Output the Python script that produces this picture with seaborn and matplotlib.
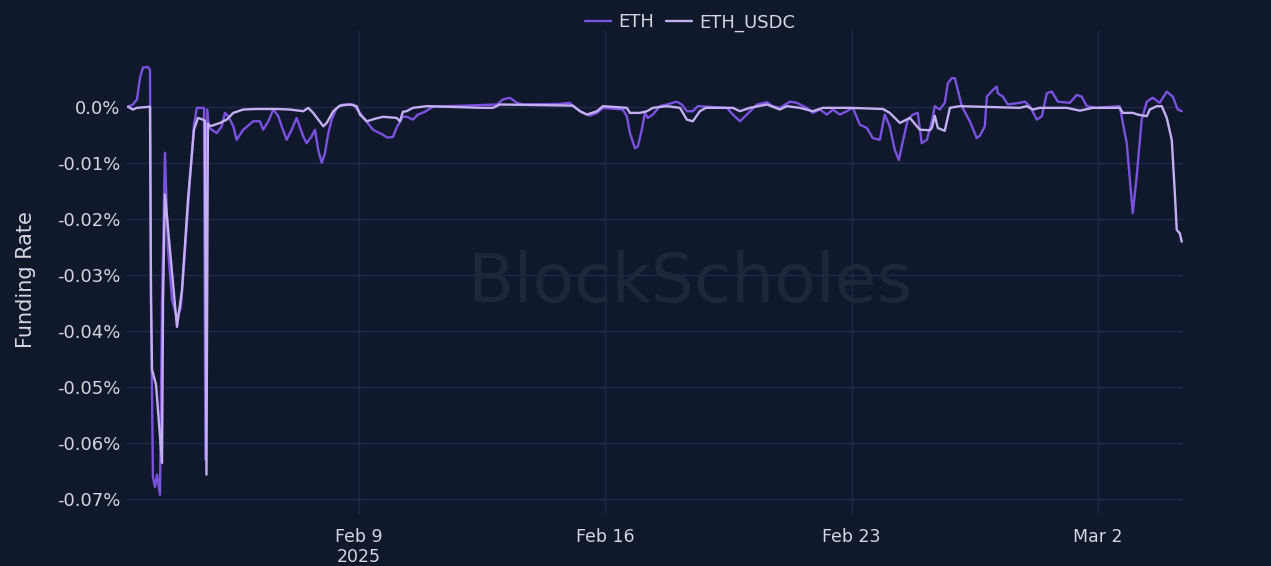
import numpy as np
import pandas as pd
import matplotlib
matplotlib.use("Agg")
import matplotlib.pyplot as plt
import seaborn as sns

START = pd.Timestamp("2025-02-02 00:00")

# ETH perp funding rate (%), hours since START
eth_hours = [10.5, 13.9, 16.6, 18.7, 20.7, 24.1, 25.5, 26.2, 27.5, 28.9, 30.3, 32.3, 33.7,
             35.7, 37.8, 40.5, 43.9, 46.6, 49.4, 52.8, 55.5, 57.5, 62.3, 63.3, 64.4, 65.7,
             67.6, 71.0, 74.4, 76.6, 78.9, 82.3, 84.6, 89.1, 95.9, 100.5, 102.7, 106.2,
             109.6, 113.0, 115.3, 118.7, 122.1, 125.5, 130.0, 132.3, 135.7, 138.0, 140.2,
             142.6, 144.8, 147.1, 149.4, 152.8, 157.3, 164.1, 168.7, 173.4, 177.5, 184.4,
             187.1, 191.2, 193.9, 198.0, 200.7, 204.8, 208.2, 213.0, 218.5, 262.1, 266.2,
             270.9, 275.7, 279.8, 305.0, 311.9, 313.9, 320.7, 325.5, 330.3, 334.4, 348.0,
             350.7, 352.8, 356.2, 358.2, 360.9, 363.0, 365.0, 368.4, 373.2, 378.0, 384.8,
             388.2, 391.6, 395.7, 399.1, 418.9, 423.0, 427.8, 432.5, 439.4, 446.2, 450.3,
             455.0, 461.9, 466.6, 473.4, 477.5, 482.3, 487.1, 491.2, 495.9, 500.7, 504.8,
             509.6, 514.4, 518.4, 523.2, 526.6, 530.0, 533.4, 536.2, 538.9, 542.3, 545.7,
             549.1, 551.8, 555.3, 558.7, 560.7, 564.1, 567.5, 569.6, 572.3, 574.4, 576.4,
             579.1, 584.6, 589.3, 591.4, 594.8, 596.2, 600.3, 603.0, 603.7, 607.1, 610.5,
             618.7, 622.1, 625.5, 630.3, 633.7, 637.1, 640.5, 644.6, 652.8, 657.5, 660.9,
             664.3, 671.2, 686.8, 691.6, 695.7, 698.4, 701.8, 705.3, 709.3, 714.1, 718.9,
             723.0, 726.4, 729.1]
eth_rate = [0.0, 0.0004, 0.0013, 0.0052, 0.0070, 0.0071, 0.0066, -0.0345, -0.0661, -0.0679,
            -0.0657, -0.0693, -0.0345, -0.0082, -0.0255, -0.0345, -0.0377, -0.0359, -0.0255,
            -0.0130, -0.0032, -0.0002, -0.0002, -0.0630, -0.0005, -0.0038, -0.0041, -0.0047,
            -0.0035, -0.0011, -0.0017, -0.0035, -0.0059, -0.0041, -0.0026, -0.0026, -0.0041,
            -0.0026, -0.0005, -0.0017, -0.0035, -0.0059, -0.0041, -0.0020, -0.0053, -0.0065,
            -0.0053, -0.0041, -0.0077, -0.0100, -0.0083, -0.0047, -0.0023, -0.0002, 0.0004,
            0.0004, -0.0011, -0.0027, -0.0041, -0.0050, -0.0055, -0.0054, -0.0036, -0.0018,
            -0.0018, -0.0023, -0.0014, -0.0009, 0.0, 0.0004, 0.0013, 0.0016, 0.0007, 0.0004,
            0.0005, 0.0007, 0.0001, -0.0011, -0.0016, -0.0011, -0.0002, -0.0005, -0.0017,
            -0.0047, -0.0074, -0.0071, -0.0041, -0.0011, -0.0020, -0.0014, 0.0001, 0.0004,
            0.0009, 0.0004, -0.0008, -0.0008, 0.0001, -0.0002, -0.0014, -0.0026, -0.0014,
            0.0004, 0.0008, 0.0001, -0.0002, 0.0009, 0.0007, -0.0002, -0.0011, -0.0005,
            -0.0014, -0.0005, -0.0014, -0.0008, -0.0002, -0.0032, -0.0038, -0.0056, -0.0059,
            -0.0014, -0.0035, -0.0077, -0.0095, -0.0062, -0.0023, -0.0014, -0.0011, -0.0065,
            -0.0059, -0.0026, 0.0001, -0.0005, 0.0007, 0.0042, 0.0051, 0.0051, 0.0030, 0.0001,
            -0.0026, -0.0056, -0.0052, -0.0035, 0.0018, 0.0030, 0.0036, 0.0024, 0.0018,
            0.0004, 0.0007, 0.0009, 0.0001, -0.0023, -0.0017, 0.0024, 0.0027, 0.0009, 0.0007,
            0.0021, 0.0018, 0.0001, -0.0002, 0.0001, -0.0065, -0.0190, -0.0124, -0.0023,
            0.0009, 0.0016, 0.0007, 0.0027, 0.0018, -0.0005, -0.0008]

# ETH_USDC perp funding rate (%)
usdc_hours = [10.5, 13.9, 16.6, 25.5, 26.2, 26.9, 29.6, 33.7, 34.4, 35.7, 39.1, 43.9, 47.3,
              51.4, 55.5, 58.2, 61.6, 62.9, 64.0, 65.0, 66.4, 73.2, 77.8, 82.3, 89.1, 98.2,
              111.9, 120.9, 130.0, 133.4, 136.8, 143.7, 146.0, 150.5, 155.0, 161.9, 166.4,
              168.7, 173.3, 179.6, 184.4, 193.7, 195.9, 198.0, 200.5, 204.8, 214.4, 252.5,
              259.4, 264.1, 313.9, 318.7, 323.5, 330.3, 334.4, 350.7, 352.8, 359.6, 364.4,
              368.4, 378.0, 386.9, 391.6, 395.7, 400.5, 404.6, 423.0, 427.8, 434.6, 446.2,
              455.0, 459.8, 468.7, 477.5, 484.4, 502.7, 525.3, 530.0, 536.9, 543.7, 550.5,
              557.3, 558.7, 560.7, 562.8, 567.5, 571.0, 577.8, 618.7, 623.4, 627.5, 632.3,
              650.7, 659.6, 668.4, 686.8, 688.9, 695.7, 699.1, 705.3, 707.3, 712.1, 715.5,
              718.9, 722.3, 724.4, 725.7, 727.8, 729.1]
usdc_rate = [0.0, -0.0005, -0.0002, 0.0, -0.0345, -0.0470, -0.0496, -0.0636, -0.0345, -0.0157,
             -0.0255, -0.0393, -0.0327, -0.0166, -0.0041, -0.0020, -0.0023, -0.0025, -0.0657,
             -0.0030, -0.0035, -0.0029, -0.0023, -0.0011, -0.0005, -0.0004, -0.0004, -0.0005,
             -0.0008, -0.0002, -0.0011, -0.0035, -0.0029, -0.0008, 0.0002, 0.0004, 0.0001,
             -0.0014, -0.0026, -0.0021, -0.0018, -0.0020, -0.0026, -0.0009, -0.0008, -0.0002,
             0.0001, -0.0002, -0.0002, 0.0004, 0.0002, -0.0008, -0.0014, -0.0008, 0.0001,
             -0.0002, -0.0011, -0.0011, -0.0008, -0.0002, 0.0001, -0.0002, -0.0023, -0.0026,
             -0.0008, -0.0002, -0.0002, -0.0008, -0.0002, 0.0004, -0.0005, 0.0001, -0.0002,
             -0.0008, -0.0002, -0.0002, -0.0004, -0.0011, -0.0029, -0.0020, -0.0041, -0.0042,
             -0.0038, -0.0016, -0.0038, -0.0043, -0.0002, 0.0001, -0.0002, 0.0001, -0.0005,
             -0.0002, -0.0002, -0.0007, -0.0002, -0.0002, -0.0011, -0.0011, -0.0014, -0.0017,
             -0.0005, 0.0001, 0.0001, -0.0020, -0.0059, -0.0154, -0.0220, -0.0226, -0.0241]

y_ticks = [0.0, -0.01, -0.02, -0.03, -0.04, -0.05, -0.06, -0.07]
y_labels = ["0.0%", "-0.01%", "-0.02%", "-0.03%", "-0.04%", "-0.05%", "-0.06%", "-0.07%"]
x_ticks = ["2025-02-09", "2025-02-16", "2025-02-23", "2025-03-02"]
x_labels = ["Feb 9\n2025", "Feb 16", "Feb 23", "Mar 2"]

BG = "#10182c"
GRID = "#1f2946"
TEXT = "#d4d7e2"
palette = {"ETH": "#7b52e0", "ETH_USDC": "#c4b0f0"}

df = pd.concat([
    pd.DataFrame({"time": START + pd.to_timedelta(eth_hours, unit="h"),
                  "rate": eth_rate, "series": "ETH"}),
    pd.DataFrame({"time": START + pd.to_timedelta(usdc_hours, unit="h"),
                  "rate": usdc_rate, "series": "ETH_USDC"}),
], ignore_index=True)

sns.set_theme(style="dark", rc={
    "axes.facecolor": BG, "figure.facecolor": BG,
    "axes.edgecolor": BG, "grid.color": GRID,
    "axes.grid": True, "grid.linewidth": 1.0,
})
plt.rcParams["font.family"] = ["DejaVu Sans"]

fig = plt.figure(figsize=(12.71, 5.66), dpi=100)
ax = fig.add_axes([0.0999, 0.0901, 0.8309, 0.8569])

# faint watermark behind the lines
fig.text(0.543, 0.50, "BlockScholes", color="#1e2639", fontsize=49,
         ha="center", va="center", zorder=0)

sns.lineplot(data=df, x="time", y="rate", hue="series", palette=palette,
             linewidth=1.7, ax=ax, legend=False, estimator=None, sort=False)

ax.set_xlim(START + pd.Timedelta(hours=9.8), START + pd.Timedelta(hours=730))
ax.set_ylim(-0.0729, 0.0137)
ax.set_yticks(y_ticks)
ax.set_yticklabels(y_labels)
ax.set_xticks(pd.to_datetime(x_ticks))
ax.set_xticklabels(x_labels)
ax.tick_params(axis="both", colors=TEXT, labelsize=13, length=0)
ax.tick_params(axis="x", pad=9, labelsize=12.5)
ax.tick_params(axis="y", pad=5)
ax.set_xlabel("")
ax.set_ylabel("Funding Rate", color=TEXT, fontsize=15)
ax.yaxis.set_label_coords(-0.086, 0.485)
for s in ax.spines.values():
    s.set_visible(False)
ax.patch.set_alpha(0.0)

handles = [plt.Line2D([], [], color=palette[k], lw=1.7) for k in palette]
fig.legend(handles, list(palette), loc="upper center", bbox_to_anchor=(0.543, 1.005),
           ncol=2, frameon=False, fontsize=13, labelcolor=TEXT,
           handlelength=1.4, handletextpad=0.4, columnspacing=0.7)

fig.savefig("out.png", dpi=100, facecolor=BG)
